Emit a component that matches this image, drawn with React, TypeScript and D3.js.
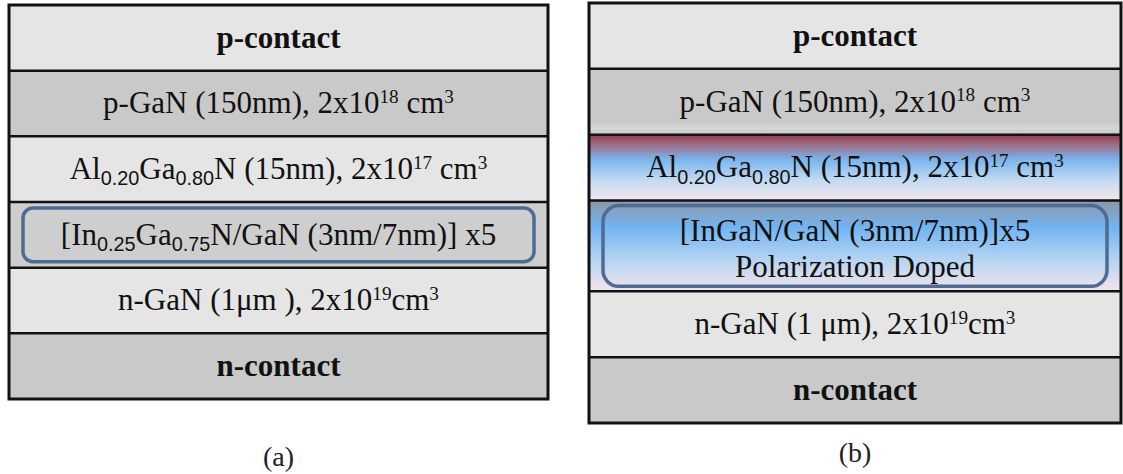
import React from "react";
import * as d3 from "d3";

type Seg = { t: string; s?: "sub" | "sup"; sans?: boolean };

// ---- data ----
const layerNamesA: Seg[][][] = [
  [[{ t: "p-contact" }]],
  [[{ t: "p-GaN (150nm), 2x10" }, { t: "18", s: "sup" }, { t: " cm" }, { t: "3", s: "sup" }]],
  [[{ t: "Al" }, { t: "0.20", s: "sub", sans: true }, { t: "Ga" }, { t: "0.80", s: "sub", sans: true }, { t: "N (15nm), 2x10" }, { t: "17", s: "sup" }, { t: " cm" }, { t: "3", s: "sup" }]],
  [[{ t: "[In" }, { t: "0.25", s: "sub", sans: true }, { t: "Ga" }, { t: "0.75", s: "sub", sans: true }, { t: "N/GaN (3nm/7nm)] x5" }]],
  [[{ t: "n-GaN (1μm ), 2x10" }, { t: "19", s: "sup" }, { t: "cm" }, { t: "3", s: "sup" }]],
  [[{ t: "n-contact" }]],
];
const layerNamesB: Seg[][][] = [
  [[{ t: "p-contact" }]],
  [[{ t: "p-GaN (150nm), 2x10" }, { t: "18", s: "sup" }, { t: " cm" }, { t: "3", s: "sup" }]],
  [[{ t: "Al" }, { t: "0.20", s: "sub", sans: true }, { t: "Ga" }, { t: "0.80", s: "sub", sans: true }, { t: "N (15nm), 2x10" }, { t: "17", s: "sup" }, { t: " cm" }, { t: "3", s: "sup" }]],
  [[{ t: "[InGaN/GaN (3nm/7nm)]x5" }], [{ t: "Polarization Doped" }]],
  [[{ t: "n-GaN (1 μm), 2x10" }, { t: "19", s: "sup" }, { t: "cm" }, { t: "3", s: "sup" }]],
  [[{ t: "n-contact" }]],
];
const layerBoldA = [true, false, false, false, false, true];
const layerBoldB = [true, false, false, false, false, true];
const layerWeightsA = [1, 1, 1, 1, 1, 1];
const layerWeightsB = [1, 1, 1, 1.38, 1, 1];
const layerFillA = ["#e5e5e5", "#c9c9c9", "#e5e5e5", "#cecece", "#e5e5e5", "#c9c9c9"];
const layerFillB = ["#e5e5e5", "url(#gradP)", "url(#gradAl)", "url(#gradIn)", "#e5e5e5", "#c9c9c9"];
const highlightLayer = 3;
const panelCaptions = ["(a)", "(b)"];

const FS = 31;
const SERIF = "Liberation Serif";
const SANS = "Liberation Sans";

function renderLine(segs: Seg[], fs: number) {
  const out: React.ReactNode[] = [];
  let shift = 0;
  segs.forEach((sg, i) => {
    let target = 0;
    let size = fs;
    if (sg.s === "sup") { target = -0.34 * fs; size = fs * 0.62; }
    if (sg.s === "sub") { target = 0.2 * fs; size = fs * 0.64; }
    const dy = target - shift;
    shift = target;
    out.push(
      <tspan key={i} dy={dy} style={{ fontSize: size + "px", fontFamily: sg.sans ? SANS : SERIF }}>
        {sg.t}
      </tspan>
    );
  });
  return out;
}

function Panel({ x0, x1, y0, y1, names, bold, weights, fills, caption, captionY, boxInset, boxR }: any) {
  const cum = [0, ...d3.cumsum(weights as number[])];
  const y = d3.scaleLinear().domain([0, cum[cum.length - 1]]).range([y0, y1]);
  const cx = (x0 + x1) / 2;
  return (
    <g>
      {names.map((lines: Seg[][], i: number) => {
        const ya = y(cum[i]);
        const yb = y(cum[i + 1]);
        const cy = (ya + yb) / 2;
        const lh = FS * 1.15;
        return (
          <g key={i}>
            <rect x={x0} y={ya} width={x1 - x0} height={yb - ya} fill={fills[i]} />
            {i === highlightLayer && (
              <rect x={x0 + boxInset[0]} y={ya + boxInset[1]} width={x1 - x0 - 2 * boxInset[0]}
                height={yb - ya - 2 * boxInset[1]} rx={boxR} ry={boxR}
                fill="none" stroke="#4d6b93" strokeWidth={3.5} />
            )}
            {lines.map((ln, j) => (
              <text key={j} x={cx} y={cy + (j - (lines.length - 1) / 2) * lh + FS * 0.32 + (lines.length > 1 ? 3 : 0)}
                textAnchor="middle"
                style={{ fontFamily: SERIF, fontSize: FS + "px", fontWeight: bold[i] ? 700 : 400 }}
                fill="#111">
                {renderLine(ln, FS)}
              </text>
            ))}
          </g>
        );
      })}
      {cum.slice(1, -1).map((c: number, i: number) => (
        <line key={i} x1={x0} x2={x1} y1={y(c)} y2={y(c)} stroke="#111" strokeWidth={2.5} />
      ))}
      <rect x={x0} y={y0} width={x1 - x0} height={y1 - y0} fill="none" stroke="#111" strokeWidth={3} />
      <text x={cx} y={captionY + 9} textAnchor="middle"
        style={{ fontFamily: SERIF, fontSize: "28px" }} fill="#222">
        {caption}
      </text>
    </g>
  );
}

export default function App() {
  return (
    <svg width={1123} height={474} style={{ position: "absolute", left: 0, top: 0, background: "#fff" }}>
      <defs>
        <linearGradient id="gradP" x1="0" y1="0" x2="0" y2="1">
          <stop offset="0" stopColor="#c9c9c9" />
          <stop offset="0.8" stopColor="#c9c9c9" />
          <stop offset="0.9" stopColor="#d6d6d6" />
          <stop offset="1" stopColor="#c9c9c9" />
        </linearGradient>
        <linearGradient id="gradAl" x1="0" y1="0" x2="0" y2="1">
          <stop offset="0" stopColor="#8e3c4c" />
          <stop offset="0.14" stopColor="#a06a80" />
          <stop offset="0.38" stopColor="#7ab5ee" />
          <stop offset="0.7" stopColor="#c4dbf2" />
          <stop offset="1" stopColor="#f2e6ee" />
        </linearGradient>
        <linearGradient id="gradIn" x1="0" y1="0" x2="0" y2="1">
          <stop offset="0" stopColor="#8c98a6" />
          <stop offset="0.3" stopColor="#72b4f2" />
          <stop offset="0.65" stopColor="#b4d4f2" />
          <stop offset="1" stopColor="#f4e4ec" />
        </linearGradient>
      </defs>
      <Panel x0={9} x1={548} y0={5} y1={399} names={layerNamesA} bold={layerBoldA}
        weights={layerWeightsA} fills={layerFillA} caption={panelCaptions[0]} captionY={457}
        boxInset={[14, 6]} boxR={10} />
      <Panel x0={589} x1={1121} y0={3} y1={423} names={layerNamesB} bold={layerBoldB}
        weights={layerWeightsB} fills={layerFillB} caption={panelCaptions[1]} captionY={453}
        boxInset={[14, 5]} boxR={16} />
    </svg>
  );
}
